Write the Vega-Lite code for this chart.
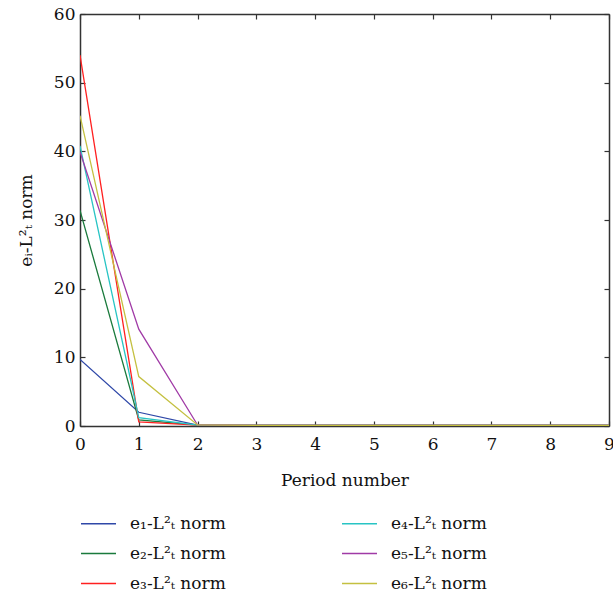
{
  "$schema": "https://vega.github.io/schema/vega-lite/v6.json",
  "width": 529,
  "height": 412,
  "autosize": {"type": "none"},
  "padding": {"left": 80, "top": 14, "right": 4, "bottom": 174},
  "background": "white",
  "config": {
    "font": "DejaVu Serif",
    "view": {"stroke": null},
    "axis": {
      "labelFont": "DejaVu Serif",
      "titleFont": "DejaVu Serif",
      "labelFontSize": 17,
      "titleFontSize": 17,
      "labelColor": "#111",
      "titleColor": "#111",
      "titleFontWeight": "normal",
      "domainColor": "#333",
      "domainWidth": 1.5,
      "tickColor": "#333",
      "tickSize": -5,
      "tickWidth": 1.2,
      "grid": false
    },
    "legend": {
      "labelFont": "DejaVu Serif",
      "labelFontSize": 17,
      "labelColor": "#111"
    }
  },
  "data": {
    "values": [
      {"period": 0, "series": "e₁-L²ₜ norm", "value": 9.7},
      {"period": 1, "series": "e₁-L²ₜ norm", "value": 2.0},
      {"period": 2, "series": "e₁-L²ₜ norm", "value": 0.12},
      {"period": 3, "series": "e₁-L²ₜ norm", "value": 0.1},
      {"period": 4, "series": "e₁-L²ₜ norm", "value": 0.1},
      {"period": 5, "series": "e₁-L²ₜ norm", "value": 0.1},
      {"period": 6, "series": "e₁-L²ₜ norm", "value": 0.1},
      {"period": 7, "series": "e₁-L²ₜ norm", "value": 0.1},
      {"period": 8, "series": "e₁-L²ₜ norm", "value": 0.1},
      {"period": 9, "series": "e₁-L²ₜ norm", "value": 0.1},
      {"period": 0, "series": "e₂-L²ₜ norm", "value": 31.4},
      {"period": 1, "series": "e₂-L²ₜ norm", "value": 0.9},
      {"period": 2, "series": "e₂-L²ₜ norm", "value": 0.12},
      {"period": 3, "series": "e₂-L²ₜ norm", "value": 0.1},
      {"period": 4, "series": "e₂-L²ₜ norm", "value": 0.1},
      {"period": 5, "series": "e₂-L²ₜ norm", "value": 0.1},
      {"period": 6, "series": "e₂-L²ₜ norm", "value": 0.1},
      {"period": 7, "series": "e₂-L²ₜ norm", "value": 0.1},
      {"period": 8, "series": "e₂-L²ₜ norm", "value": 0.1},
      {"period": 9, "series": "e₂-L²ₜ norm", "value": 0.1},
      {"period": 0, "series": "e₃-L²ₜ norm", "value": 54.0},
      {"period": 1, "series": "e₃-L²ₜ norm", "value": 0.6},
      {"period": 2, "series": "e₃-L²ₜ norm", "value": 0.12},
      {"period": 3, "series": "e₃-L²ₜ norm", "value": 0.1},
      {"period": 4, "series": "e₃-L²ₜ norm", "value": 0.1},
      {"period": 5, "series": "e₃-L²ₜ norm", "value": 0.1},
      {"period": 6, "series": "e₃-L²ₜ norm", "value": 0.1},
      {"period": 7, "series": "e₃-L²ₜ norm", "value": 0.1},
      {"period": 8, "series": "e₃-L²ₜ norm", "value": 0.1},
      {"period": 9, "series": "e₃-L²ₜ norm", "value": 0.1},
      {"period": 0, "series": "e₄-L²ₜ norm", "value": 40.8},
      {"period": 1, "series": "e₄-L²ₜ norm", "value": 1.2},
      {"period": 2, "series": "e₄-L²ₜ norm", "value": 0.12},
      {"period": 3, "series": "e₄-L²ₜ norm", "value": 0.1},
      {"period": 4, "series": "e₄-L²ₜ norm", "value": 0.1},
      {"period": 5, "series": "e₄-L²ₜ norm", "value": 0.1},
      {"period": 6, "series": "e₄-L²ₜ norm", "value": 0.1},
      {"period": 7, "series": "e₄-L²ₜ norm", "value": 0.1},
      {"period": 8, "series": "e₄-L²ₜ norm", "value": 0.1},
      {"period": 9, "series": "e₄-L²ₜ norm", "value": 0.1},
      {"period": 0, "series": "e₅-L²ₜ norm", "value": 39.9},
      {"period": 1, "series": "e₅-L²ₜ norm", "value": 14.1},
      {"period": 2, "series": "e₅-L²ₜ norm", "value": 0.15},
      {"period": 3, "series": "e₅-L²ₜ norm", "value": 0.1},
      {"period": 4, "series": "e₅-L²ₜ norm", "value": 0.1},
      {"period": 5, "series": "e₅-L²ₜ norm", "value": 0.1},
      {"period": 6, "series": "e₅-L²ₜ norm", "value": 0.1},
      {"period": 7, "series": "e₅-L²ₜ norm", "value": 0.1},
      {"period": 8, "series": "e₅-L²ₜ norm", "value": 0.1},
      {"period": 9, "series": "e₅-L²ₜ norm", "value": 0.1},
      {"period": 0, "series": "e₆-L²ₜ norm", "value": 45.2},
      {"period": 1, "series": "e₆-L²ₜ norm", "value": 7.2},
      {"period": 2, "series": "e₆-L²ₜ norm", "value": 0.15},
      {"period": 3, "series": "e₆-L²ₜ norm", "value": 0.1},
      {"period": 4, "series": "e₆-L²ₜ norm", "value": 0.1},
      {"period": 5, "series": "e₆-L²ₜ norm", "value": 0.1},
      {"period": 6, "series": "e₆-L²ₜ norm", "value": 0.1},
      {"period": 7, "series": "e₆-L²ₜ norm", "value": 0.1},
      {"period": 8, "series": "e₆-L²ₜ norm", "value": 0.1},
      {"period": 9, "series": "e₆-L²ₜ norm", "value": 0.1}
    ]
  },
  "layer": [
    {
      "mark": {"type": "line", "strokeWidth": 1.3, "clip": true},
      "encoding": {
        "x": {
          "field": "period", "type": "quantitative",
          "scale": {"domain": [0, 9], "nice": false, "zero": false},
          "axis": {"orient": "bottom", "title": "Period number", "values": [0,1,2,3,4,5,6,7,8,9], "labelPadding": 15, "titlePadding": 20, "labelFlush": false}
        },
        "y": {
          "field": "value", "type": "quantitative",
          "scale": {"domain": [0, 60], "nice": false},
          "axis": {"orient": "left", "title": "eᵢ-L²ₜ norm", "values": [0,10,20,30,40,50,60], "labelPadding": 10, "titlePadding": 18}
        },
        "color": {
          "field": "series", "type": "nominal",
          "scale": {
            "domain": ["e₁-L²ₜ norm", "e₂-L²ₜ norm", "e₃-L²ₜ norm", "e₄-L²ₜ norm", "e₅-L²ₜ norm", "e₆-L²ₜ norm"],
            "range": ["#2f48a8", "#1a7a3c", "#ff2020", "#28c4c4", "#a03aa6", "#c4c040"]
          },
          "legend": {
            "title": null,
            "orient": "none",
            "legendX": 0,
            "legendY": 491,
            "columns": 2,
            "symbolType": "stroke",
            "symbolSize": 1225,
            "symbolStrokeWidth": 1.5,
            "labelOffset": 13,
            "rowPadding": 3,
            "columnPadding": 113
          }
        }
      }
    },
    {
      "mark": {"type": "point", "opacity": 0},
      "encoding": {
        "x": {
          "field": "period", "type": "quantitative",
          "scale": {"domain": [0, 9], "nice": false, "zero": false},
          "axis": {"orient": "top", "title": null, "labels": false, "values": [0,1,2,3,4,5,6,7,8,9]}
        },
        "y": {
          "field": "value", "type": "quantitative",
          "scale": {"domain": [0, 60], "nice": false},
          "axis": {"orient": "right", "title": null, "labels": false, "values": [0,10,20,30,40,50,60]}
        }
      }
    }
  ],
  "resolve": {"axis": {"x": "independent", "y": "independent"}}
}
